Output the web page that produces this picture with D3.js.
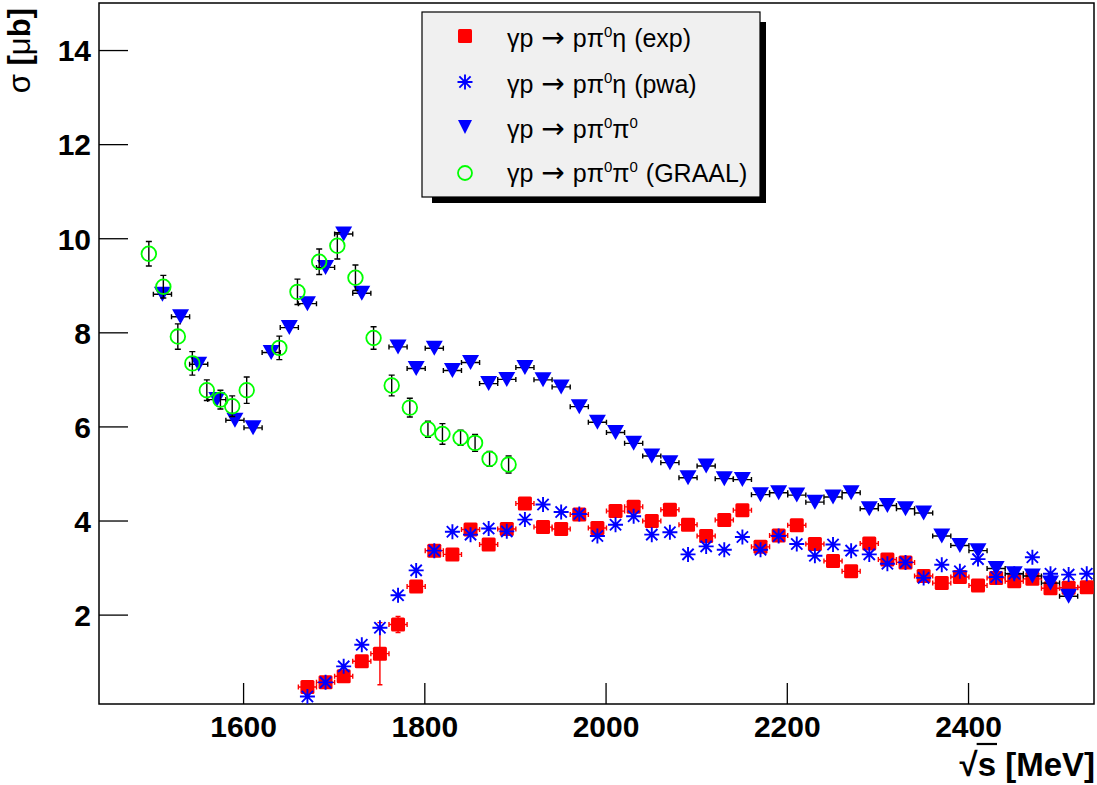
<!DOCTYPE html>
<html>
<head>
<meta charset="utf-8">
<script src="https://cdn.jsdelivr.net/npm/d3@7"></script>
<style>
  body { margin: 0; background: #fff; }
  svg { display: block; }
  text { font-family: "Liberation Sans", Arial, Helvetica, sans-serif; }
</style>
</head>
<body>
<svg id="chart" width="1097" height="785"></svg>
<script>
// ---- γp → pπ0π0 (CB-ELSA), σ in μb vs √s in MeV ----
const pi0pi0Energy = [1511, 1531, 1551, 1571, 1591, 1611, 1631, 1651, 1671, 1691, 1711, 1731,
  1771, 1791, 1811, 1831, 1851, 1871, 1891, 1911, 1931, 1951,
  1971, 1991, 2011, 2031, 2051, 2071, 2091, 2111, 2131, 2151,
  2171, 2191, 2211, 2231, 2251, 2271, 2291, 2311, 2331, 2351,
  2371, 2391, 2411, 2431, 2451, 2471, 2491, 2511];
const pi0pi0Sigma = [8.81, 8.33, 7.32, 6.57, 6.13, 5.97, 7.57, 8.10, 8.61, 9.38, 10.09, 8.83,
  7.69, 7.23, 7.66, 7.19, 7.36, 6.91, 7.00, 7.25, 6.99, 6.84,
  6.42, 6.09, 5.87, 5.64, 5.37, 5.23, 4.91, 5.16, 4.89, 4.87,
  4.55, 4.59, 4.54, 4.39, 4.50, 4.59, 4.25, 4.32, 4.25, 4.16,
  3.67, 3.47, 3.36, 2.98, 2.87, 2.82, 2.67, 2.39];
const binHalfWidth = 10; // MeV

// ---- γp → pπ0η : measured and partial-wave fit ----
const pi0etaEnergy = [1671, 1691, 1711, 1731, 1751, 1771, 1791, 1811, 1831, 1851, 1871,
  1891, 1911, 1931, 1951, 1971, 1991, 2011, 2031, 2051, 2071, 2091,
  2111, 2131, 2151, 2171, 2191, 2211, 2231, 2251, 2271, 2291, 2311,
  2331, 2351, 2371, 2391, 2411, 2431, 2451, 2471, 2491, 2511, 2531];
const pi0etaExp = [0.46, 0.56, 0.69, 1.01, 1.17, 1.79, 2.60, 3.36, 3.28, 3.81, 3.49,
  3.82, 4.36, 3.86, 3.82, 4.13, 3.84, 4.20, 4.29, 3.99, 4.23, 3.91,
  3.67, 4.01, 4.22, 3.44, 3.68, 3.90, 3.50, 3.14, 2.92, 3.51, 3.17,
  3.11, 2.82, 2.67, 2.80, 2.62, 2.78, 2.71, 2.76, 2.56, 2.57, 2.58];
const pi0etaExpErr = [0.10, 0.08, 0.10, 0.10, 0.66, 0.17, 0.12, 0.10, 0.10, 0.10, 0.10,
  0.10, 0.10, 0.10, 0.10, 0.10, 0.10, 0.10, 0.11, 0.10, 0.10, 0.10,
  0.10, 0.10, 0.10, 0.10, 0.10, 0.10, 0.10, 0.10, 0.10, 0.10, 0.10,
  0.10, 0.10, 0.10, 0.10, 0.10, 0.10, 0.10, 0.10, 0.10, 0.10, 0.10];
const pi0etaPwa = [0.26, 0.56, 0.90, 1.36, 1.72, 2.41, 2.94, 3.36, 3.76, 3.70, 3.83,
  3.77, 4.02, 4.34, 4.18, 4.14, 3.67, 3.91, 4.09, 3.70, 3.75, 3.28,
  3.45, 3.38, 3.65, 3.38, 3.67, 3.50, 3.25, 3.49, 3.36, 3.28, 3.08,
  3.11, 2.78, 3.06, 2.92, 3.18, 2.80, 2.87, 3.22, 2.87, 2.85, 2.87];

// ---- γp → pπ0π0 (GRAAL) ----
const graalEnergy = [1496, 1512, 1528, 1544, 1560, 1575, 1588, 1604, 1640, 1660, 1684,
  1704, 1724, 1744, 1764, 1784, 1804, 1820, 1840, 1856, 1872, 1893];
const graalSigma = [9.67, 8.97, 7.91, 7.34, 6.77, 6.57, 6.43, 6.77, 7.67, 8.86, 9.50,
  9.84, 9.16, 7.88, 6.87, 6.40, 5.94, 5.84, 5.76, 5.65, 5.31, 5.19];
const graalErr = [0.26, 0.24, 0.27, 0.25, 0.22, 0.20, 0.22, 0.28, 0.25, 0.27, 0.27,
  0.28, 0.27, 0.24, 0.22, 0.20, 0.17, 0.22, 0.16, 0.18, 0.16, 0.18];

// ---- axes ----
const xMajorTicks = [1600, 1800, 2000, 2200, 2400];
const yMajorTicks = [2, 4, 6, 8, 10, 12, 14];
const xDomain = [1441, 2539];
const yDomain = [0.1, 15];

const legendEntries = [
  { kind: "square",   reaction: "pπ", sup: "0", post: "η (exp)" },
  { kind: "star",     reaction: "pπ", sup: "0", post: "η (pwa)" },
  { kind: "triangle", reaction: "pπ", sup: "0", post: "π", sup2: "0", post2: "" },
  { kind: "circle",   reaction: "pπ", sup: "0", post: "π", sup2: "0", post2: " (GRAAL)" }
];

const RED = "#ff0000", BLUE = "#0000ff", GREEN = "#00ff00";

const svg = d3.select("#chart");
const frame = { left: 99, right: 1094, top: 3, bottom: 704 };

const x = d3.scaleLinear().domain(xDomain).range([frame.left, frame.right]);
const y = d3.scaleLinear().domain(yDomain).range([frame.bottom, frame.top]);

// minor tick positions derived from the major tick step
const xMinor = d3.range(1450, 2539, 50);
const yMinor = d3.range(0.5, 15.01, 0.5);

// ---- axis ticks ----
const gx = svg.append("g").attr("transform", `translate(0,${frame.bottom})`);
gx.call(d3.axisBottom(x).tickValues(xMinor).tickSize(-11).tickFormat(""));
gx.call(d3.axisBottom(x).tickValues(xMajorTicks).tickSize(-21).tickFormat(d3.format("d")));
gx.selectAll(".domain").remove();
gx.selectAll("line").attr("stroke", "#000").attr("stroke-width", 1.3);
gx.selectAll("text")
  .attr("y", 33).attr("dy", 0)
  .attr("fill", "#000")
  .style("font-family", '"Liberation Sans", Arial, sans-serif')
  .style("font-weight", "bold").style("font-size", "30px");

const gy = svg.append("g").attr("transform", `translate(${frame.left},0)`);
gy.call(d3.axisLeft(y).tickValues(yMinor).tickSize(-14).tickFormat(""));
gy.call(d3.axisLeft(y).tickValues(yMajorTicks).tickSize(-29).tickPadding(8).tickFormat(d3.format("d")));
gy.selectAll(".domain").remove();
gy.selectAll("line").attr("stroke", "#000").attr("stroke-width", 1.3);
gy.selectAll("text")
  .attr("dy", "0.36em")
  .attr("fill", "#000")
  .style("font-family", '"Liberation Sans", Arial, sans-serif')
  .style("font-weight", "bold").style("font-size", "30px");

// frame
svg.append("rect")
  .attr("x", frame.left).attr("y", frame.top)
  .attr("width", frame.right - frame.left).attr("height", frame.bottom - frame.top)
  .attr("fill", "none").attr("stroke", "#000").attr("stroke-width", 1.5);

// ---- plot area ----
svg.append("clipPath").attr("id", "plotClip")
  .append("rect")
  .attr("x", frame.left).attr("y", frame.top)
  .attr("width", frame.right - frame.left).attr("height", frame.bottom - frame.top);
const plot = svg.append("g").attr("clip-path", "url(#plotClip)");

// marker shapes
function drawSquare(g, cx, cy, s, color) {
  g.append("rect").attr("x", cx - s / 2).attr("y", cy - s / 2)
    .attr("width", s).attr("height", s).attr("rx", 1.5)
    .attr("fill", color);
}
function drawStar(g, cx, cy, r, color) {
  const d = r * 0.75;
  const p = `M${cx - r},${cy}H${cx + r}M${cx},${cy - r}V${cy + r}` +
            `M${cx - d},${cy - d}L${cx + d},${cy + d}M${cx - d},${cy + d}L${cx + d},${cy - d}`;
  g.append("path").attr("d", p).attr("stroke", color).attr("stroke-width", 1.9).attr("fill", "none");
}
function drawTriangle(g, cx, cy, w, h, color) {
  g.append("path")
    .attr("d", `M${cx - w / 2},${cy - h / 2}L${cx + w / 2},${cy - h / 2}L${cx},${cy + h / 2}Z`)
    .attr("fill", color);
}
function drawCircle(g, cx, cy, r, color) {
  g.append("circle").attr("cx", cx).attr("cy", cy).attr("r", r)
    .attr("fill", "none").attr("stroke", color).attr("stroke-width", 1.8);
}
// horizontal error bar with end ticks
function hErr(g, e, v, color, cap) {
  const yy = y(v);
  const x0 = x(e - binHalfWidth), x1 = x(e + binHalfWidth);
  g.append("path")
    .attr("d", `M${x0},${yy}H${x1}M${x0},${yy - cap}V${yy + cap}M${x1},${yy - cap}V${yy + cap}`)
    .attr("stroke", color).attr("stroke-width", 1.4).attr("fill", "none");
}
// vertical error bar with end ticks
function vErr(g, e, v, err, color, cap) {
  const xx = x(e);
  const y0 = y(v - err), y1 = y(v + err);
  g.append("path")
    .attr("d", `M${xx},${y0}V${y1}M${xx - cap},${y0}H${xx + cap}M${xx - cap},${y1}H${xx + cap}`)
    .attr("stroke", color).attr("stroke-width", 1.4).attr("fill", "none");
}

// pπ0η measured (red squares)
const gExp = plot.append("g");
pi0etaEnergy.forEach((e, i) => {
  hErr(gExp, e, pi0etaExp[i], RED, 2.5);
  vErr(gExp, e, pi0etaExp[i], pi0etaExpErr[i], RED, 2.5);
});
pi0etaEnergy.forEach((e, i) => drawSquare(gExp, x(e), y(pi0etaExp[i]), 14, RED));

// pπ0η partial-wave fit (blue asterisks)
const gPwa = plot.append("g");
pi0etaEnergy.forEach((e, i) => drawStar(gPwa, x(e), y(pi0etaPwa[i]), 7.5, BLUE));

// pπ0π0 (blue down triangles)
const gTri = plot.append("g");
pi0pi0Energy.forEach((e, i) => hErr(gTri, e, pi0pi0Sigma[i], "#000", 2.5));
pi0pi0Energy.forEach((e, i) => drawTriangle(gTri, x(e), y(pi0pi0Sigma[i]), 17, 15, BLUE));

// GRAAL pπ0π0 (green open circles)
const gGraal = plot.append("g");
graalEnergy.forEach((e, i) => vErr(gGraal, e, graalSigma[i], graalErr[i], "#000", 3));
graalEnergy.forEach((e, i) => drawCircle(gGraal, x(e), y(graalSigma[i]), 7.3, GREEN));

// ---- axis titles ----
const xt = svg.append("text")
  .attr("x", 1095).attr("y", 776)
  .attr("text-anchor", "end")
  .style("font-weight", "bold").style("font-size", "33px")
  .text("√s [MeV]");
{
  const n = xt.node();
  const s0 = n.getStartPositionOfChar(1).x, s1 = n.getEndPositionOfChar(1).x;
  svg.append("line")
    .attr("x1", s0 - 1).attr("x2", s1 + 1)
    .attr("y1", 744).attr("y2", 744)
    .attr("stroke", "#000").attr("stroke-width", 2.2);
}

const yt = svg.append("text")
  .attr("transform", "translate(30,8) rotate(-90)")
  .attr("text-anchor", "end")
  .style("font-size", "31px");
yt.append("tspan").text("σ ");
yt.append("tspan").style("font-weight", "bold").text("[");
yt.append("tspan").text("μ");
yt.append("tspan").style("font-weight", "bold").text("b]");

// ---- legend ----
const lg = { x: 422, y: 12, w: 338, h: 185, sh: 6 };
const leg = svg.append("g");
leg.append("rect").attr("x", lg.x + 10).attr("y", lg.y + lg.h)
  .attr("width", lg.w - 4).attr("height", lg.sh).attr("fill", "#000");
leg.append("rect").attr("x", lg.x + lg.w).attr("y", lg.y + 10)
  .attr("width", lg.sh).attr("height", lg.h - 10 + lg.sh).attr("fill", "#000");
leg.append("rect").attr("x", lg.x).attr("y", lg.y).attr("width", lg.w).attr("height", lg.h)
  .attr("fill", "#f0f0f0").attr("stroke", "#000").attr("stroke-width", 1.2);

const rowY = [36, 82, 127, 173];
const baseY = [47, 93, 138, 182];
legendEntries.forEach((d, i) => {
  const cx = 465, cy = rowY[i];
  if (d.kind === "square") drawSquare(leg, cx, cy, 14, RED);
  if (d.kind === "star") drawStar(leg, cx, cy, 7.5, BLUE);
  if (d.kind === "triangle") drawTriangle(leg, cx, cy, 14, 14, BLUE);
  if (d.kind === "circle") drawCircle(leg, cx, cy, 7, GREEN);
  const t = leg.append("text").attr("x", 507).attr("y", baseY[i])
    .style("font-size", "25px").style("word-spacing", "1px");
  t.append("tspan").text("γp ");
  t.append("tspan").style("font-family", '"DejaVu Sans", sans-serif').style("font-size", "28px")
    .text("→");
  t.append("tspan").text(" " + d.reaction);
  t.append("tspan").attr("dy", -10).style("font-size", "15px").text(d.sup);
  t.append("tspan").attr("dy", 10).text(d.post);
  if (d.sup2) {
    t.append("tspan").attr("dy", -10).style("font-size", "15px").text(d.sup2);
    if (d.post2) t.append("tspan").attr("dy", 10).text(d.post2);
  }
});
</script>
</body>
</html>
